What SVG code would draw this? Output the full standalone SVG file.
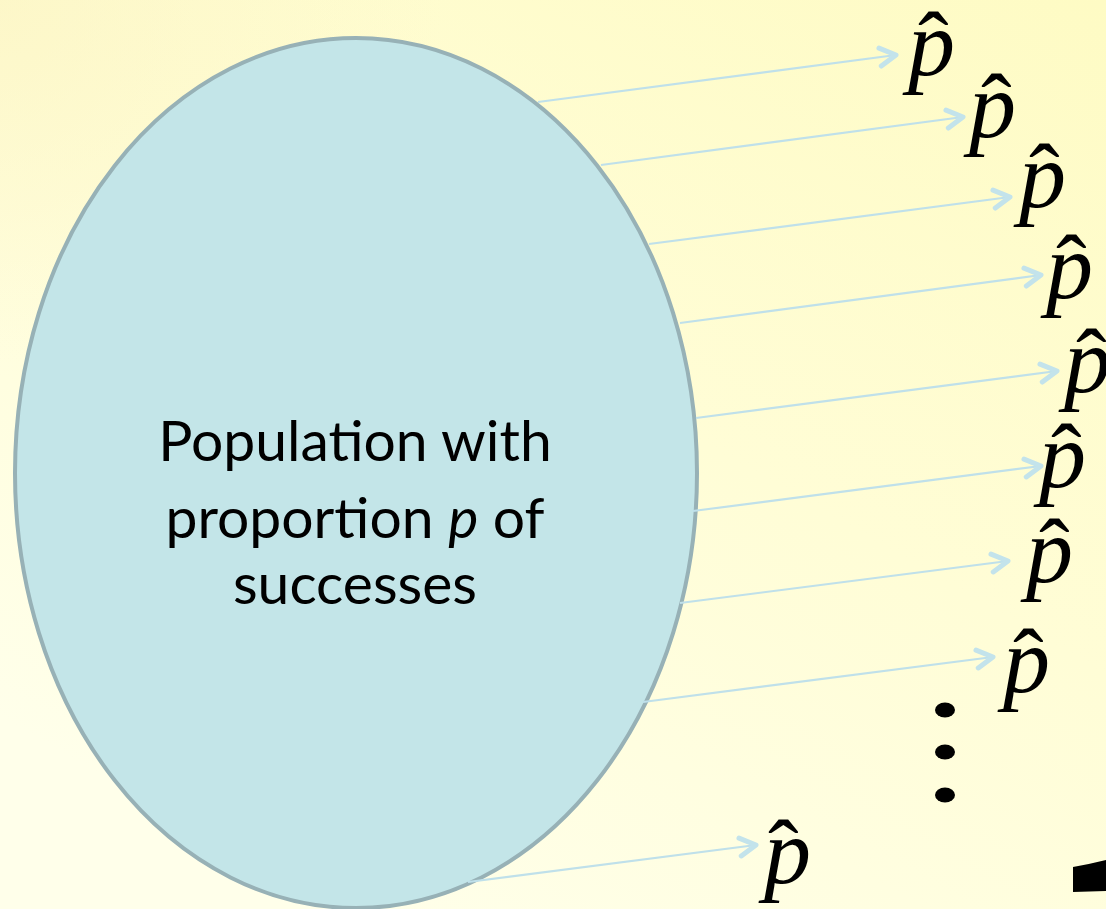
<svg xmlns="http://www.w3.org/2000/svg" width="1106" height="909" viewBox="0 0 1106 909">
  <defs>
    <linearGradient id="bg" x1="1" y1="0" x2="0.3" y2="1">
      <stop offset="0" stop-color="#FEFBC4"/>
      <stop offset="0.5" stop-color="#FFFDD6"/>
      <stop offset="1" stop-color="#FFFFEA"/>
    </linearGradient>
    <radialGradient id="corner" cx="0" cy="0" r="0.4">
      <stop offset="0" stop-color="#FBF3C0" stop-opacity="0.6"/>
      <stop offset="1" stop-color="#FBF3C0" stop-opacity="0"/>
    </radialGradient>
    <marker id="chev" viewBox="-22 -14 28 28" refX="0" refY="0" markerWidth="28" markerHeight="28" markerUnits="userSpaceOnUse" orient="auto">
      <path d="M-16,-9 L0,0 L-16,9" fill="none" stroke="#C3E3EB" stroke-width="5" stroke-linecap="round" stroke-linejoin="round"/>
    </marker>
    <style>
      .conn { stroke: #BFE0EA; stroke-width: 2.2; fill: none; marker-end: url(#chev); }
      .ph { font-family: "Liberation Serif", "Times New Roman", "DejaVu Serif", serif; font-size: 94px; fill: #000; }
      .ph .p { font-style: italic; }
      .ph .hat { font-style: normal; font-size: 92px; }
      .lbl { font-family: Lato, "Open Sans", sans-serif; font-size: 57px; fill: #000; text-anchor: middle; }
    </style>
  </defs>

  <rect width="1106" height="909" fill="url(#bg)"/>
  <rect width="1106" height="909" fill="url(#corner)"/>

  <g id="population">
    <ellipse cx="356" cy="473" rx="341" ry="435" fill="#C3E5E8" stroke="#97B1B6" stroke-width="4"/>
    <text class="lbl" x="355" y="461">Population with</text>
    <text class="lbl" x="355" y="538">proportion <tspan font-style="italic">p</tspan> of</text>
    <text class="lbl" x="355" y="604">successes</text>
  </g>

  <g id="connectors">
    <line class="conn" x1="538" y1="102" x2="896" y2="55"/>
    <line class="conn" x1="601" y1="165" x2="963" y2="117"/>
    <line class="conn" x1="649" y1="244" x2="1010" y2="197"/>
    <line class="conn" x1="680" y1="323" x2="1041" y2="275"/>
    <line class="conn" x1="696" y1="418" x2="1057" y2="371"/>
    <line class="conn" x1="693" y1="511" x2="1041" y2="466"/>
    <line class="conn" x1="680" y1="603" x2="1008" y2="561"/>
    <line class="conn" x1="643" y1="702" x2="993" y2="657"/>
    <line class="conn" x1="468" y1="882" x2="756" y2="845"/>
  </g>

  <g id="phat1"><text class="ph" x="908" y="75"><tspan class="p">p</tspan><tspan class="hat" x="918" y="75">ˆ</tspan></text></g>
  <g id="phat2"><text class="ph" x="969" y="137"><tspan class="p">p</tspan><tspan class="hat" x="981" y="137">ˆ</tspan></text></g>
  <g id="phat3"><text class="ph" x="1019" y="207"><tspan class="p">p</tspan><tspan class="hat" x="1029" y="207">ˆ</tspan></text></g>
  <g id="phat4"><text class="ph" x="1046" y="298"><tspan class="p">p</tspan><tspan class="hat" x="1056" y="298">ˆ</tspan></text></g>
  <g id="phat5"><text class="ph" x="1064" y="392"><tspan class="p">p</tspan><tspan class="hat" x="1076" y="392">ˆ</tspan></text></g>
  <g id="phat6"><text class="ph" x="1039" y="487"><tspan class="p">p</tspan><tspan class="hat" x="1051" y="487">ˆ</tspan></text></g>
  <g id="phat7"><text class="ph" x="1026" y="582"><tspan class="p">p</tspan><tspan class="hat" x="1039" y="582">ˆ</tspan></text></g>
  <g id="phat8"><text class="ph" x="1003" y="692"><tspan class="p">p</tspan><tspan class="hat" x="1013" y="692">ˆ</tspan></text></g>
  <g id="phat9"><text class="ph" x="764" y="883"><tspan class="p">p</tspan><tspan class="hat" x="768" y="883">ˆ</tspan></text></g>

  <g id="ellipsis" fill="#000">
    <ellipse cx="945" cy="710" rx="10" ry="7.5"/>
    <ellipse cx="945" cy="752" rx="10" ry="7.5"/>
    <ellipse cx="945" cy="795" rx="10" ry="7.5"/>
  </g>

  <path id="brace-fragment" d="M1073,867 Q1090,864 1106,860 L1106,891 L1073,892 Z" fill="#000"/>
</svg>
